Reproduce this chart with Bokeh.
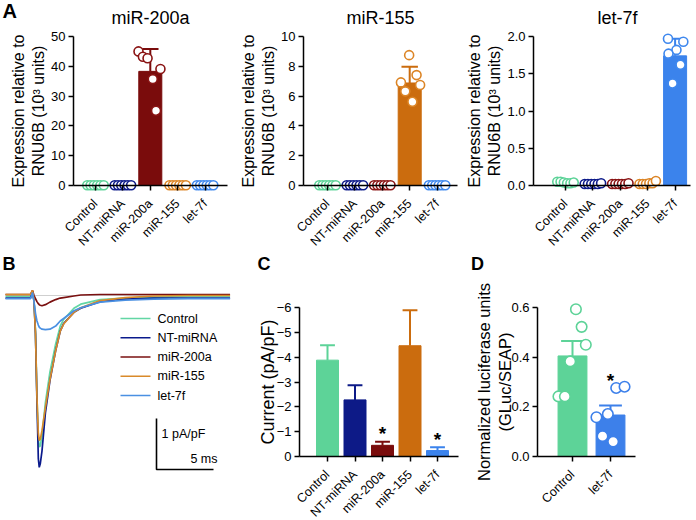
import math
from bokeh.plotting import figure
from bokeh.layouts import row, column
from bokeh.models import Range1d, FixedTicker
from bokeh.core.properties import value
from bokeh.embed import file_html
from bokeh.resources import INLINE

FONT = "Liberation Sans"

# ---------------- data ----------------
groups = ["Control", "NT-miRNA", "miR-200a", "miR-155", "let-7f"]
pt_colors = ["#5dd398", "#0d1b8a", "#8a1414", "#dc8526", "#3f88ee"]
bar_colors = ["#5dd398", "#0d1a87", "#7a0c0c", "#cb6c0e", "#3b83ec"]

# Panel A (expression relative to RNU6B, 10^3 units)
a1_title = "miR-200a"
a1_mean = [0.1, 0.1, 38.3, 0.1, 0.1]
a1_top = [0.1, 0.1, 45.8, 0.1, 0.1]
a1_pts = [[0.1, 0.1, 0.1, 0.1, 0.1, 0.1],
          [0.1, 0.1, 0.1, 0.1, 0.1, 0.1],
          [45.0, 43.2, 42.7, 35.7, 25.1, 39.1],
          [0.1, 0.1, 0.1, 0.1, 0.1, 0.1],
          [0.1, 0.1, 0.1, 0.1, 0.1, 0.1]]
a1_jit = [[-0.3, -0.18, -0.06, 0.06, 0.18, 0.3],
          [-0.3, -0.18, -0.06, 0.06, 0.18, 0.3],
          [-0.43, -0.27, -0.1, 0.09, 0.21, 0.37],
          [-0.3, -0.18, -0.06, 0.06, 0.18, 0.3],
          [-0.3, -0.18, -0.06, 0.06, 0.18, 0.3]]
a1_yticks = [0, 10, 20, 30, 40, 50]

a2_title = "miR-155"
a2_mean = [0.02, 0.02, 0.02, 6.88, 0.02]
a2_top = [0.02, 0.02, 0.02, 7.97, 0.02]
a2_pts = [[0.02, 0.02, 0.02, 0.02, 0.02, 0.02],
          [0.02, 0.02, 0.02, 0.02, 0.02, 0.02],
          [0.02, 0.02, 0.02, 0.02, 0.02, 0.02],
          [8.75, 7.41, 6.92, 6.74, 6.32, 5.62],
          [0.02, 0.02, 0.02, 0.02, 0.02, 0.02]]
a2_jit = [[-0.3, -0.18, -0.06, 0.06, 0.18, 0.3],
          [-0.3, -0.18, -0.06, 0.06, 0.18, 0.3],
          [-0.3, -0.18, -0.06, 0.06, 0.18, 0.3],
          [-0.02, 0.25, -0.32, 0.38, -0.16, 0.1],
          [-0.3, -0.18, -0.06, 0.06, 0.18, 0.3]]
a2_yticks = [0, 2, 4, 6, 8, 10]

a3_title = "let-7f"
a3_mean = [0.04, 0.02, 0.02, 0.03, 1.74]
a3_top = [0.04, 0.02, 0.02, 0.03, 1.97]
a3_pts = [[0.05, 0.05, 0.04, 0.03, 0.03, 0.04],
          [0.02, 0.02, 0.02, 0.02, 0.02, 0.03],
          [0.02, 0.02, 0.02, 0.02, 0.02, 0.03],
          [0.02, 0.02, 0.02, 0.03, 0.03, 0.06],
          [1.97, 1.93, 1.82, 1.77, 1.62, 1.37]]
a3_jit = [[-0.3, -0.18, -0.06, 0.06, 0.18, 0.3],
          [-0.3, -0.18, -0.06, 0.06, 0.18, 0.3],
          [-0.3, -0.18, -0.06, 0.06, 0.18, 0.3],
          [-0.3, -0.18, -0.06, 0.06, 0.18, 0.3],
          [-0.26, 0.3, 0.05, -0.24, 0.2, -0.09]]
a3_yticks = [0.0, 0.5, 1.0, 1.5, 2.0]

# Panel B (current traces, pA/pF vs ms)
b_time = [0, 1.0, 2.2, 2.37, 2.5, 2.63, 2.76, 2.88, 2.96, 3.05, 3.2, 3.5,
          3.9, 4.4, 4.8, 5.1, 6.0, 6.6, 8.3, 10.5, 13.0, 16.0, 19.7]
b_control = [-0.02, -0.02, -0.02, 0.08, -0.1, -0.7, -2.0, -2.8, -2.97, -2.95, -2.75, -2.1,
             -1.5, -0.95, -0.6, -0.47, -0.25, -0.17, -0.08, -0.05, -0.03, -0.02, -0.02]
b_nt = [-0.05, -0.05, -0.05, 0.08, -0.1, -0.75, -2.1, -3.2, -3.37, -3.3, -3.05, -2.3,
        -1.67, -1.08, -0.7, -0.55, -0.33, -0.25, -0.12, -0.07, -0.05, -0.05, -0.05]
b_200a = [0.02, 0.02, 0.02, 0.1, 0.0, -0.06, -0.12, -0.16, -0.18, -0.19, -0.2, -0.18,
          -0.13, -0.08, -0.05, -0.04, -0.01, 0.01, 0.02, 0.02, 0.02, 0.02, 0.02]
b_155 = [0.02, 0.02, 0.02, 0.1, -0.1, -0.75, -2.0, -2.7, -2.84, -2.82, -2.65, -2.2,
         -1.65, -1.08, -0.7, -0.56, -0.33, -0.24, -0.1, -0.04, -0.01, 0.0, 0.0]
b_let7f = [-0.06, -0.06, -0.06, 0.06, -0.12, -0.35, -0.5, -0.58, -0.62, -0.64, -0.66, -0.67,
           -0.66, -0.6, -0.5, -0.45, -0.3, -0.24, -0.13, -0.09, -0.07, -0.06, -0.06]
b_traces = [b_control, b_nt, b_200a, b_155, b_let7f]
trace_colors = ["#62d6a4", "#0a1a8c", "#7a1010", "#d98a2a", "#4a90e2"]

# Panel C (current, pA/pF)
c_mean = [-3.88, -2.28, -0.45, -4.46, -0.24]
c_top = [-4.48, -2.87, -0.59, -5.89, -0.37]
c_star = [False, False, True, False, True]
c_yticks = [-6, -5, -4, -3, -2, -1, 0]

# Panel D (normalized luciferase units)
d_groups = ["Control", "let-7f"]
d_colors = ["#5dd398", "#3d80ea"]
d_mean = [0.405, 0.167]
d_top = [0.465, 0.205]
d_pts = [[0.593, 0.522, 0.45, 0.383, 0.242, 0.242],
         [0.276, 0.281, 0.158, 0.171, 0.082, 0.06]]
d_jit = [[0.09, 0.24, 0.35, -0.06, -0.37, -0.2],
         [0.15, 0.37, -0.37, -0.07, -0.21, 0.07]]
d_star = [False, True]
d_yticks = [0.0, 0.2, 0.4, 0.6]

TOP_H = 255
BOT_H = 265


# ---------------- helpers ----------------
class PxMap:
    """pixel <-> data mapping of a figure whose frame fills the whole figure"""
    def __init__(self, W, H, x0_px, x_per_px, y0_px, y0_val, y_per_px):
        self.W, self.H = W, H
        self.x0_px, self.xpp = x0_px, x_per_px
        self.y0_px, self.y0v, self.ypp = y0_px, y0_val, y_per_px

    def x(self, px):
        return (px - self.x0_px) * self.xpp

    def y(self, py):  # py measured downward from top of figure
        return self.y0v + (self.y0_px - py) * self.ypp

    def ranges(self):
        return Range1d(self.x(0), self.x(self.W)), Range1d(self.y(self.H), self.y(0))


def full_fig(m):
    xr, yr = m.ranges()
    p = figure(width=m.W, height=m.H, x_range=xr, y_range=yr,
               min_border_left=0, min_border_right=0, min_border_top=0, min_border_bottom=0,
               output_backend="svg", toolbar_location=None)
    p.grid.visible = False
    p.outline_line_color = None
    return p


def style_axes(p, ylabel, ylabel_size, label_standoff):
    for ax in p.axis:
        ax.axis_line_width = 1.5
        ax.axis_line_color = "black"
        ax.major_tick_line_width = 1.5
        ax.major_tick_line_color = "black"
        ax.major_tick_out = 5
        ax.major_tick_in = 0
        ax.minor_tick_out = 0
        ax.minor_tick_in = 0
        ax.major_label_text_font = FONT
        ax.major_label_text_color = "black"
        ax.major_label_standoff = 3
    p.yaxis.major_label_text_font_size = "13px"
    p.xaxis.major_label_text_font_size = "12.5px"
    p.xaxis.major_label_orientation = math.pi / 4
    p.xaxis.major_label_standoff = 11
    p.yaxis.axis_label = ylabel
    p.yaxis.axis_label_text_font = FONT
    p.yaxis.axis_label_text_font_size = ylabel_size
    p.yaxis.axis_label_text_font_style = "normal"
    p.yaxis.axis_label_text_color = "black"
    p.yaxis.axis_label_standoff = label_standoff


def place_axes(p, m, yaxis_px, xend_px, ylo, yhi, xaxis_val):
    ya = m.x(yaxis_px)
    p.yaxis.fixed_location = ya
    p.yaxis.bounds = (ylo, yhi)
    p.xaxis.fixed_location = xaxis_val
    p.xaxis.bounds = (ya, m.x(xend_px))


def put_text(p, x, y, txt, size, bold=False, align="left", baseline="middle"):
    p.text(x=[x], y=[y], text=[txt], text_font=value(FONT), text_font_size=size,
           text_font_style="bold" if bold else "normal", text_align=align,
           text_baseline=baseline, text_color="black")


def bar_panel(p, names, means, tops, colors, width, cap, pts=None, jits=None, pcolors=None, psize=9):
    idx = list(range(len(names)))
    p.vbar(x=idx, top=means, bottom=0, width=width, fill_color=colors, line_color=colors)
    ex, e0, e1, c0, c1, cy, ecol = [], [], [], [], [], [], []
    for i in idx:
        if abs(tops[i] - means[i]) > 1e-9:
            ex.append(i); e0.append(means[i]); e1.append(tops[i])
            c0.append(i - cap); c1.append(i + cap); cy.append(tops[i]); ecol.append(colors[i])
    p.segment(x0=ex, y0=e0, x1=ex, y1=e1, line_color=ecol, line_width=2)
    p.segment(x0=c0, y0=cy, x1=c1, y1=cy, line_color=ecol, line_width=2)
    if pts is not None:
        for i in idx:
            xs = [i + o for o in jits[i]]
            p.scatter(x=xs, y=pts[i], size=psize, fill_color="white",
                      line_color=pcolors[i], line_width=1.6)


def cat_ticks(p, names):
    p.xaxis.ticker = FixedTicker(ticks=list(range(len(names))))
    p.xaxis.major_label_overrides = {i: n for i, n in enumerate(names)}


YLAB_A = "Expression relative to\nRNU6B (10\u00b3 units)"


def make_a(title, means, tops, pts, jits, yticks, W, cat0_px, title_px, xend_px, letter=None):
    ymax = yticks[-1]
    # y = ymax at 36 px, y = 0 at 185 px; categories 27.4 px apart
    m = PxMap(W, TOP_H, cat0_px, 1 / 27.4, 185, 0.0, ymax / 149.0)
    p = full_fig(m)
    bar_panel(p, groups, means, tops, bar_colors, 0.84, 0.3, pts, jits, pt_colors, 9)
    style_axes(p, YLAB_A, "16px", 1)
    cat_ticks(p, groups)
    place_axes(p, m, 73, xend_px, 0, ymax, 0)
    p.yaxis.ticker = FixedTicker(ticks=yticks)
    if ymax < 5:
        p.yaxis.major_label_overrides = {t: "%.1f" % t for t in yticks}
    put_text(p, m.x(title_px), m.y(17.5), title, "18px", align="center")
    if letter is not None:
        put_text(p, m.x(2), m.y(10.5), letter, "20px", bold=True)
    return p


a1 = make_a(a1_title, a1_mean, a1_top, a1_pts, a1_jit, a1_yticks, 230, 95, 150, 227, "A")
a2 = make_a(a2_title, a2_mean, a2_top, a2_pts, a2_jit, a2_yticks, 230, 97, 150, 227)
a3 = make_a(a3_title, a3_mean, a3_top, a3_pts, a3_jit, a3_yticks, 236, 105, 157, 230)

# ---------------- panel B ----------------
# t = 0 ms at 5 px, 11.4 px per ms; I = 0 at 40 px, 51 px per pA/pF
mb = PxMap(240, BOT_H, 5, 1 / 11.4, 40, 0.0, 1 / 51.0)
b = full_fig(mb)
b.axis.visible = False
b.line(x=[b_time[0], b_time[-1]], y=[0, 0], line_color="#cfcfcf", line_width=1.2)
for tr, col in zip(b_traces, trace_colors):
    b.line(x=b_time, y=tr, line_color=col, line_width=1.7)
for k, (name, col) in enumerate(zip(groups, trace_colors)):
    yk = mb.y(63 + 19.25 * k)
    b.line(x=[mb.x(120), mb.x(150)], y=[yk, yk], line_color=col, line_width=1.7)
    put_text(b, mb.x(157), yk, name, "12.5px")
# scale bar: 1 pA/pF (vertical) and 5 ms (horizontal)
sb_x, sb_y = mb.x(156), mb.y(163)
b.line(x=[sb_x, sb_x, sb_x + 5], y=[sb_y, sb_y - 1, sb_y - 1], line_color="black", line_width=1.6)
put_text(b, mb.x(161), mb.y(178), "1 pA/pF", "12.5px")
put_text(b, mb.x(217), mb.y(203), "5 ms", "12.5px", align="right")
put_text(b, mb.x(2), mb.y(8.5), "B", "18px", bold=True)

# ---------------- panel C ----------------
# -6 at 52 px, 0 at 201 px (axis inverted), categories 27.5 px apart
mc = PxMap(230, BOT_H, 87, 1 / 27.5, 201, 0.0, -6 / 149.0)
c = full_fig(mc)
bar_panel(c, groups, c_mean, c_top, bar_colors, 0.8, 0.27)
style_axes(c, "Current (pA/pF)", "18px", -4)
cat_ticks(c, groups)
place_axes(c, mc, 59, 218, -6, 0, 0)
c.yaxis.ticker = FixedTicker(ticks=c_yticks)
sx = [i for i in range(len(groups)) if c_star[i]]
sy = [c_top[i] for i in sx]
c.text(x=sx, y=sy, text=["*"] * len(sx), y_offset=-8, text_font=value(FONT), text_font_size="19px",
       text_font_style="bold", text_align="center", text_baseline="middle", text_color="black")
put_text(c, mc.x(17), mc.y(8.5), "C", "18px", bold=True)

# ---------------- panel D ----------------
# 0.6 at 52 px, 0 at 201 px, categories 38 px apart
md = PxMap(226, BOT_H, 102, 1 / 38.0, 201, 0.0, 0.6 / 149.0)
d = full_fig(md)
bar_panel(d, d_groups, d_mean, d_top, d_colors, 0.76, 0.3, d_pts, d_jit, d_colors, 10.5)
style_axes(d, "Normalized luciferase units\n(GLuc/SEAP)", "16.5px", -6)
cat_ticks(d, d_groups)
place_axes(d, md, 67, 165, 0, 0.6, 0)
d.yaxis.ticker = FixedTicker(ticks=d_yticks)
d.yaxis.major_label_overrides = {t: "%.1f" % t for t in d_yticks}
dsx = [i for i in range(len(d_groups)) if d_star[i]]
dsy = [max(d_pts[i]) for i in dsx]
d.text(x=dsx, y=dsy, text=["*"] * len(dsx), y_offset=-6, text_font=value(FONT), text_font_size="19px",
       text_font_style="bold", text_align="center", text_baseline="middle", text_color="black")
put_text(d, md.x(0.5), md.y(8.5), "D", "18px", bold=True)

layout = column(row(a1, a2, a3), row(b, c, d))
open("out.html", "w").write(file_html(layout, INLINE))
